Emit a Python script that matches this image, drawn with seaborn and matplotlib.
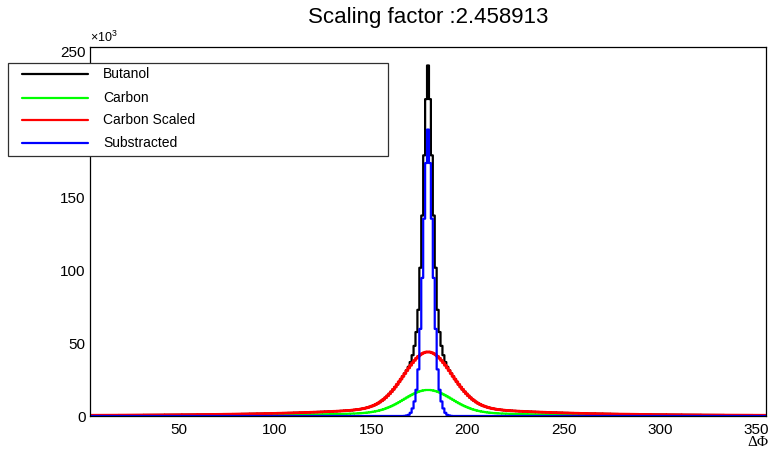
import numpy as np
import pandas as pd
import matplotlib
matplotlib.use("Agg")
import matplotlib.pyplot as plt
import seaborn as sns
from matplotlib.lines import Line2D
from matplotlib.patches import Rectangle
from matplotlib.ticker import MultipleLocator

# --- data (counts in units of 10^3, 1 degree bins) ---
scale_factor = 2.458913
first_edge = 4      # left edge of the first shown bin (deg)
last_edge = 355     # right edge of the last shown bin (deg)

# Carbon histogram vs distance (in bins) from the peak bin [179,180];
# the peak is symmetric within reading precision, d = 0..175
carbon_profile = [
    17.90, 17.85, 17.69, 17.43, 17.08, 16.64, 16.12, 15.52, 14.87, 14.17,
    13.42, 12.66, 11.87, 11.09, 10.31, 9.54, 8.80, 8.09, 7.42, 6.78,
    6.19, 5.64, 5.13, 4.68, 4.26, 3.89, 3.56, 3.27, 3.01, 2.79,
    2.59, 2.42, 2.27, 2.14, 2.03, 1.93, 1.85, 1.77, 1.71, 1.65,
    1.60, 1.56, 1.52, 1.48, 1.44, 1.41, 1.38, 1.35, 1.32, 1.30,
    1.27, 1.25, 1.22, 1.20, 1.18, 1.15, 1.13, 1.11, 1.09, 1.07,
    1.05, 1.03, 1.01, 0.99, 0.97, 0.96, 0.94, 0.92, 0.91, 0.89,
    0.87, 0.86, 0.84, 0.83, 0.81, 0.80, 0.78, 0.77, 0.76, 0.74,
    0.73, 0.72, 0.71, 0.69, 0.68, 0.67, 0.66, 0.65, 0.64, 0.63,
    0.62, 0.61, 0.60, 0.59, 0.58, 0.57, 0.56, 0.55, 0.54, 0.53,
    0.53, 0.52, 0.51, 0.50, 0.50, 0.49, 0.48, 0.47, 0.47, 0.46,
    0.45, 0.44, 0.44, 0.43, 0.43, 0.42, 0.41, 0.41, 0.40, 0.40,
    0.39, 0.39, 0.38, 0.38, 0.37, 0.37, 0.36, 0.36, 0.35, 0.35,
    0.34, 0.34, 0.33, 0.33, 0.33, 0.32, 0.32, 0.31, 0.31, 0.30,
    0.30, 0.30, 0.29, 0.29, 0.29, 0.28, 0.28, 0.28, 0.27, 0.27,
    0.27, 0.26, 0.26, 0.26, 0.25, 0.25, 0.25, 0.25, 0.24, 0.24,
    0.24, 0.23, 0.23, 0.23, 0.23, 0.22, 0.22, 0.22, 0.22, 0.21,
    0.21, 0.21, 0.21, 0.20, 0.20, 0.20,
]
# Substracted (Butanol - scaled Carbon), only non zero near the peak
substracted_profile = [196.7, 173.7, 135.5, 94.8, 59.8, 32.0, 18.0, 10.0,
                       5.2, 2.2, 0.8, 0.3, 0.1]

y_ticks = [0, 50, 100, 150, 200, 250]
x_ticks = [50, 100, 150, 200, 250, 300, 350]
series_names = ["Butanol", "Carbon", "Carbon Scaled", "Substracted"]
series_colors = ["#000000", "#00ff00", "#ff0000", "#0000ff"]


def mirror(profile, n):
    half = list(profile) + [0.0] * (n + 1 - len(profile))
    return np.array(half[n:0:-1] + half)


edges = list(range(first_edge, last_edge + 1))
centers = np.array(edges[:-1]) + 0.5
n_side = 175
carbon = mirror(carbon_profile, n_side)
carbon_scaled = carbon * scale_factor
substracted = mirror(substracted_profile, n_side)
butanol = substracted + carbon_scaled

df = pd.DataFrame({"dphi": centers, "Butanol": butanol, "Carbon": carbon,
                   "Carbon Scaled": carbon_scaled, "Substracted": substracted})

sns.set_style("white")
plt.rcParams["font.family"] = ["Liberation Sans", "DejaVu Sans"]
plt.rcParams["text.color"] = "black"

fig = plt.figure(figsize=(7.68, 4.49), dpi=100)
W, H = 768, 449
ax = fig.add_axes([90 / W, 1 - 416 / H, 676 / W, 369 / H])

for name, col in zip(series_names, series_colors):
    lw = 2.0 if name == "Carbon Scaled" else 1.6
    sns.histplot(data=df, x="dphi", weights=name, bins=edges, element="step",
                 fill=False, color=col, linewidth=lw, snap=False, ax=ax)

ax.set_xlim(first_edge, last_edge)
ax.set_ylim(0, 253.4)
ax.set_xlabel("")
ax.set_ylabel("")
ax.set_xticks(x_ticks)
ax.set_yticks(y_ticks)
ax.xaxis.set_minor_locator(MultipleLocator(10))
ax.yaxis.set_minor_locator(MultipleLocator(10))
ax.tick_params(axis="x", which="major", direction="in", length=8, width=0.8,
               labelsize=11, pad=5, top=False, colors="black")
ax.tick_params(axis="x", which="minor", direction="in", length=4, width=0.8, top=False)
ax.tick_params(axis="y", which="major", direction="in", length=14.5, width=0.8,
               labelsize=11, pad=3, right=False, colors="black")
ax.tick_params(axis="y", which="minor", direction="in", length=7.2, width=0.8, right=False)
for sp in ax.spines.values():
    sp.set_visible(True)
    sp.set_color("black")
    sp.set_linewidth(0.9)

ax.text(0.0, 1.005, r"$\mathregular{\times10^{3}}$", transform=ax.transAxes,
        ha="left", va="bottom", fontsize=9)

fig.text(428 / W, 1 - 18 / H, "Scaling factor :2.458913", ha="center",
         va="center", fontsize=16)
fig.text(768 / W, 1 - 435.5 / H, "ΔΦ", ha="right", va="top", fontsize=11,
         family=["Liberation Serif", "DejaVu Serif"])

# legend box drawn like the ROOT TLegend
lx0, lx1, ly0, ly1 = 7.5, 388, 62.5, 156
fig.add_artist(Rectangle((lx0 / W, 1 - ly1 / H), (lx1 - lx0) / W, (ly1 - ly0) / H,
                         transform=fig.transFigure, facecolor="white",
                         edgecolor="#303030", linewidth=0.9, zorder=5))
row_y = [74.3, 97.5, 120.3, 143.3]
for name, col, yy in zip(series_names, series_colors, row_y):
    fig.add_artist(Line2D([22 / W, 88 / W], [1 - yy / H, 1 - yy / H],
                          transform=fig.transFigure, color=col, linewidth=1.6,
                          zorder=6))
    fig.text(103 / W, 1 - yy / H, name, ha="left", va="center", fontsize=10,
             zorder=7)

fig.savefig("out.png", dpi=100)
plt.close(fig)
